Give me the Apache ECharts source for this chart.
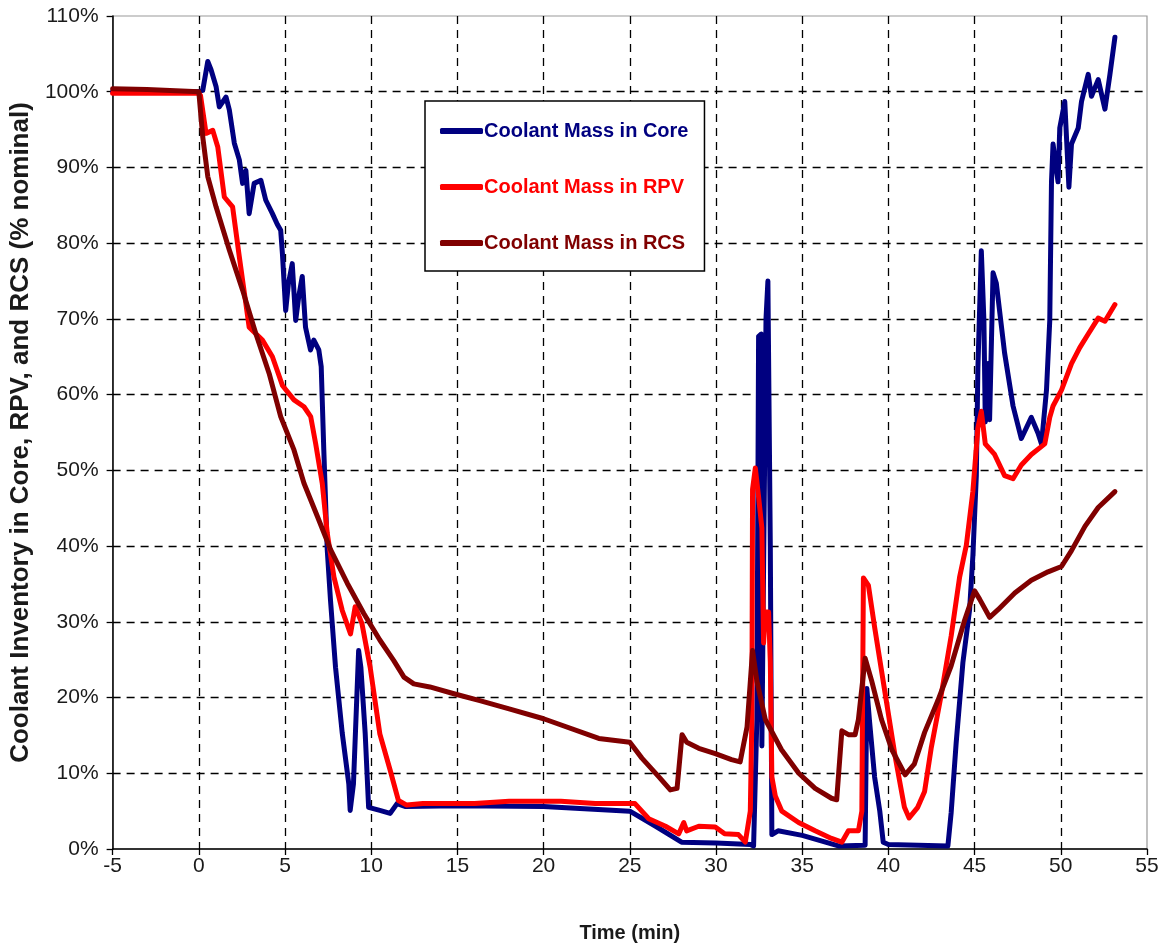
<!DOCTYPE html>
<html>
<head>
<meta charset="utf-8">
<script src="https://cdn.jsdelivr.net/npm/echarts@6/dist/echarts.min.js"></script>
<style>
html,body{margin:0;padding:0;background:#fff;}
#chart{width:1163px;height:950px;}
</style>
</head>
<body>
<div id="chart"></div>
<script>
// ---- Data (time in min, value in % nominal) ----
const seriesNames = ['Coolant Mass in Core', 'Coolant Mass in RPV', 'Coolant Mass in RCS'];

const coreT = [-5, 0, 0.23, 0.52, 0.71, 1.0, 1.19, 1.58, 1.77, 2.06, 2.35, 2.54, 2.73, 2.92, 3.21, 3.6, 3.88, 4.27, 4.55, 4.75, 4.85, 5.04, 5.2, 5.42, 5.62, 5.8, 6.0, 6.19, 6.48, 6.67, 6.96, 7.1, 7.25, 7.45, 7.64, 7.93, 8.32, 8.7, 8.78, 8.97, 9.27, 9.4, 9.65, 9.85, 10.5, 11.1, 11.5, 12, 15, 20, 25, 26.5, 28, 30, 32, 32.18, 32.37, 32.47, 32.63, 32.66, 32.9, 33.01, 33.15, 33.24, 33.6, 35, 37.1, 38.65, 38.75, 38.9, 39.2, 39.5, 39.7, 40, 43.45, 43.64, 43.93, 44.32, 44.71, 44.9, 45.1, 45.19, 45.39, 45.54, 45.62, 45.78, 45.87, 46.07, 46.26, 46.74, 47.23, 47.71, 48.29, 48.68, 48.88, 49.17, 49.36, 49.46, 49.55, 49.84, 49.94, 50.23, 50.47, 50.62, 51.01, 51.2, 51.59, 51.78, 52.17, 52.56, 52.85, 53.14];
const coreV = [100, 100, 100.2, 104, 102.9, 100.7, 98, 99.3, 97.6, 93.2, 91, 87.9, 89.6, 83.9, 87.9, 88.3, 85.7, 83.9, 82.5, 81.7, 78.6, 71.1, 74.7, 77.3, 69.8, 73, 75.6, 68.9, 65.9, 67.2, 65.9, 63.7, 52.7, 39.5, 32.8, 24, 15.3, 8.6, 5.1, 8.6, 26.2, 24, 15.3, 5.5, 5.1, 4.7, 6, 5.6, 5.7, 5.6, 5.0, 3, 0.9, 0.8, 0.6, 0.4, 17.1, 67.7, 68, 13.6, 70, 75, 40, 1.9, 2.4, 1.8, 0.4, 0.5, 21.2, 17, 9.5, 5, 0.9, 0.6, 0.4, 4.8, 14, 24.6, 31.6, 38.7, 49.3, 63.4, 79, 69.8, 56.4, 64.1, 56.7, 76.1, 74.7, 65.5, 58.5, 54.2, 57, 54.9, 53.5, 60.6, 69.8, 88.1, 93.1, 88.1, 95.2, 98.7, 87.4, 93.1, 95.2, 98.7, 102.3, 99.4, 101.6, 97.7, 102.3, 107.2];

const rpvT = [-5, 0, 0.1, 0.42, 0.81, 1.1, 1.48, 1.96, 2.35, 2.73, 2.92, 3.69, 4.27, 4.85, 5.52, 6.1, 6.49, 6.78, 7.16, 7.45, 7.84, 8.32, 8.8, 9.07, 9.46, 9.94, 10.5, 11.1, 11.58, 12.06, 13, 16, 18, 21, 23, 25, 25.3, 26.1, 27.07, 27.84, 28.13, 28.3, 29, 29.96, 30.5, 31.3, 31.7, 31.99, 32.08, 32.12, 32.28, 32.47, 32.66, 32.76, 32.86, 33.05, 33.15, 33.24, 33.44, 33.82, 34.79, 35.75, 36.7, 37.3, 37.68, 38.26, 38.46, 38.55, 38.84, 39.2, 39.8, 40.4, 40.93, 41.2, 41.7, 42.1, 42.48, 43.06, 43.64, 44.13, 44.52, 44.9, 45.19, 45.39, 45.62, 46.16, 46.74, 47.23, 47.71, 48.29, 49.07, 49.36, 49.55, 50.04, 50.62, 51.1, 51.59, 52.17, 52.56, 53.14];
const rpvV = [99.8, 99.8, 99.5, 94.5, 94.9, 92.7, 86.1, 84.8, 78.2, 72, 68.9, 67.2, 65, 61.2, 59.3, 58.4, 57.1, 53.5, 48.3, 41.7, 35.9, 31.5, 28.4, 32, 29.8, 24, 15.2, 10.4, 6.4, 5.8, 6, 6, 6.3, 6.3, 6, 6, 6, 4, 3, 2, 3.5, 2.4, 3, 2.9, 2, 1.9, 0.9, 5, 17.1, 47.5, 50.3, 46.5, 42.4, 27.2, 31.3, 31.3, 24.7, 9.5, 7, 5, 3.5, 2.4, 1.4, 0.9, 2.4, 2.4, 5, 35.8, 34.8, 29.3, 20.7, 12.1, 5.5, 4.1, 5.5, 7.6, 13.3, 20.3, 28.1, 35.9, 40.1, 47.2, 55.6, 57.8, 53.5, 52.1, 49.3, 48.9, 50.7, 52.1, 53.5, 57, 58.5, 60.6, 64.1, 66.2, 68, 70.1, 69.7, 71.9];

const rcsT = [-5, -3, 0, 0.23, 0.52, 1.0, 1.77, 2.54, 3.3, 4.08, 4.75, 5.52, 6.1, 6.88, 7.65, 8.61, 9.57, 10.5, 11.3, 11.9, 12.47, 13.4, 14.8, 16.3, 18, 20, 23.2, 25, 25.7, 26.7, 27.35, 27.74, 28.03, 28.3, 29, 29.96, 30.9, 31.4, 31.8, 32.12, 32.37, 32.86, 33.8, 34.8, 35.75, 36.7, 37, 37.3, 37.68, 38.07, 38.26, 38.65, 39.03, 39.6, 40.2, 40.97, 41.5, 42.1, 42.87, 43.64, 44.42, 45, 45.29, 45.87, 46.36, 47.33, 48.29, 49.26, 50.04, 50.62, 51.4, 52.17, 53.14];
const rcsV = [100.4, 100.3, 100, 94, 88.8, 84.8, 79.1, 73.8, 68.1, 62.8, 57.1, 52.7, 48.3, 43.9, 39.5, 35.1, 31.1, 27.6, 24.9, 22.7, 21.8, 21.4, 20.5, 19.6, 18.5, 17.2, 14.6, 14.1, 12, 9.5, 7.8, 8, 15.1, 14.1, 13.3, 12.6, 11.8, 11.5, 16.1, 26.2, 22.2, 17.1, 13.1, 10, 8, 6.7, 6.5, 15.6, 15.1, 15.1, 17.1, 25.2, 22.2, 17.1, 13.1, 9.8, 11.2, 15.4, 19.6, 24.2, 30.2, 34.1, 33, 30.6, 31.6, 33.8, 35.5, 36.6, 37.3, 39.4, 42.6, 45.1, 47.2];

const seriesColors = ['#000080', '#ff0000', '#800000'];

function zip(t, v) { return t.map((x, i) => [x, v[i]]); }
const seriesData = [zip(coreT, coreV), zip(rpvT, rpvV), zip(rcsT, rcsV)];

const chart = echarts.init(document.getElementById('chart'), null, {renderer: 'canvas'});
const sans = '"Liberation Sans", Arial, sans-serif';
const gridLine = {show: true, showMinLine: false, showMaxLine: false, lineStyle: {color: '#000', width: 1.3, type: [8, 6]}};

chart.setOption({
  animation: false,
  backgroundColor: '#fff',
  grid: {left: 112, right: 16, top: 16, bottom: 101, show: true, borderColor: '#999', borderWidth: 1.2, backgroundColor: 'transparent'},
  legend: {
    orient: 'vertical', left: 425, top: 101,
    padding: [20, 16, 18, 15], itemGap: 36,
    borderColor: '#000', borderWidth: 1.5, backgroundColor: '#fff',
    itemWidth: 43, itemHeight: 6, icon: 'roundRect', itemStyle: {borderWidth: 0},
    textStyle: {fontFamily: sans, fontWeight: 'bold', fontSize: 20, padding: [0, 0, 0, -4]},
    data: seriesNames.map((n, i) => ({name: n, textStyle: {color: seriesColors[i]}}))
  },
  xAxis: {
    type: 'value', min: -5, max: 55, interval: 5,
    name: 'Time (min)', nameLocation: 'middle', nameGap: 74,
    nameTextStyle: {fontFamily: sans, fontWeight: 'bold', fontSize: 20, color: '#1a1a1a'},
    axisLine: {show: true, onZero: false, lineStyle: {color: '#000', width: 1.5}},
    axisTick: {show: true, length: 6, lineStyle: {color: '#000', width: 1.3}},
    axisLabel: {fontFamily: sans, fontSize: 21, color: '#1a1a1a', margin: 7},
    splitLine: gridLine
  },
  yAxis: {
    type: 'value', min: 0, max: 110, interval: 10,
    name: 'Coolant Inventory in Core, RPV, and RCS (% nominal)', nameLocation: 'middle', nameGap: 76,
    nameTextStyle: {fontFamily: sans, fontWeight: 'bold', fontSize: 26, color: '#1a1a1a', padding: [0, 0, 0, 0]},
    axisLine: {show: true, onZero: false, lineStyle: {color: '#000', width: 1.5}},
    axisTick: {show: true, length: 6, lineStyle: {color: '#000', width: 1.3}},
    axisLabel: {fontFamily: sans, fontSize: 21, color: '#1a1a1a', margin: 14, formatter: '{value}%'},
    splitLine: gridLine
  },
  series: seriesNames.map((n, i) => ({
    name: n, type: 'line', data: seriesData[i],
    showSymbol: false, symbol: 'none',
    lineStyle: {color: seriesColors[i], width: 5, cap: 'round', join: 'round'},
    itemStyle: {color: seriesColors[i]},
    z: 2 + i
  }))
});
</script>
</body>
</html>
